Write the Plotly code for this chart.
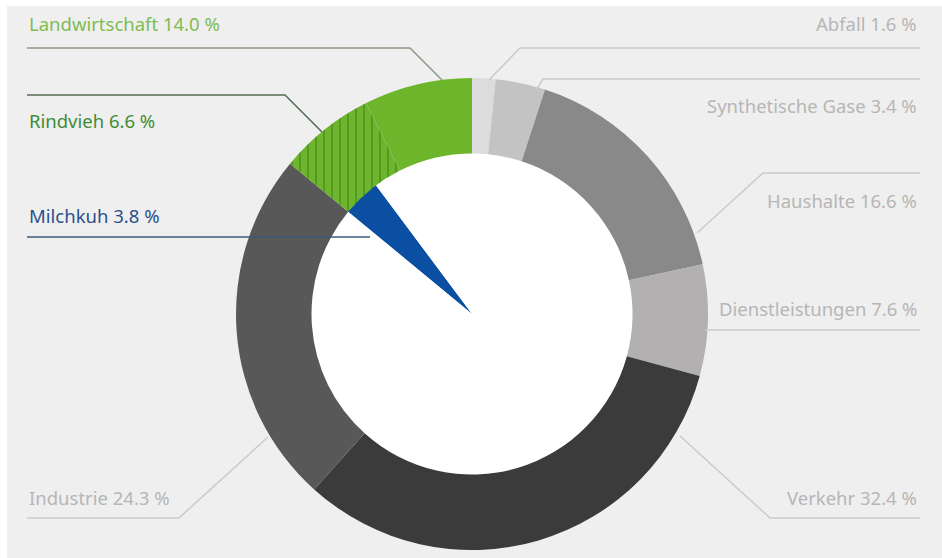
import plotly.graph_objects as go

# ---------------- data ----------------
sectors = ["Abfall", "Synthetische Gase", "Haushalte", "Dienstleistungen",
           "Verkehr", "Industrie", "Landwirtschaft"]
shares = [1.6, 3.4, 16.6, 7.6, 32.4, 24.3, 14.0]
rindvieh_share = 6.6      # part of Landwirtschaft
milchkuh_share = 3.8      # part of Rindvieh

# ---------------- styling / layout constants ----------------
W, H = 942, 558
CX, CY, R_OUT, R_IN = 472, 314, 236, 160.5

sector_colors = {
    "Abfall": "#dcdcdc", "Synthetische Gase": "#c3c3c3", "Haushalte": "#898989",
    "Dienstleistungen": "#b2b0b0", "Verkehr": "#3b3b3b", "Industrie": "#585858",
    "Landwirtschaft": "#6db52b",
}
hatch_color = "#3d7d1f"
blue = "#0b4fa3"
panel_color = "#efefef"


def px(x):
    return x / W


def py(y):
    return 1 - y / H


def dom(r):
    return dict(x=[px(CX - r), px(CX + r)], y=[py(CY + r), py(CY - r)])


total = sum(shares)
# ring: Landwirtschaft split into Rindvieh (hatched) + rest
ring_labels = sectors[:-1] + ["Rindvieh", "Landwirtschaft (übrige)"]
ring_values = shares[:-1] + [rindvieh_share, shares[-1] - rindvieh_share]
ring_colors = [sector_colors[s] for s in sectors[:-1]] + [sector_colors["Landwirtschaft"]] * 2
ring_shapes = [""] * (len(sectors) - 1) + ["|", ""]

fig = go.Figure()

# inner white disc with Milchkuh wedge (drawn first, under the ring)
start_angle = 360 * sum(shares[:-1]) / total
fig.add_trace(go.Pie(
    labels=["Milchkuh", "übrige"],
    values=[milchkuh_share, total - milchkuh_share],
    sort=False, direction="clockwise", rotation=start_angle,
    marker=dict(colors=[blue, "#ffffff"], line=dict(width=0)),
    textinfo="none", hoverinfo="skip", showlegend=False,
    domain=dom(R_IN + 1),
))

fig.add_trace(go.Pie(
    labels=ring_labels, values=ring_values,
    sort=False, direction="clockwise", rotation=0,
    hole=R_IN / R_OUT,
    marker=dict(colors=ring_colors, line=dict(width=0),
                pattern=dict(shape=ring_shapes,
                             fgcolor=[hatch_color] * len(ring_colors),
                             bgcolor=ring_colors,
                             fillmode="replace",
                             size=8, solidity=0.13)),
    textinfo="none", hoverinfo="skip", showlegend=False,
    domain=dom(R_OUT),
))

# ---------------- labels + leader lines ----------------
gray_txt = "#b6b6b6"
gray_line = "#cacaca"
label_specs = [
    # text, x, y, anchor, text color, line color, line path (pixels)
    (f"Abfall {shares[0]:.1f} %", 919, 24, "right", gray_txt, gray_line,
     [(920, 48), (520, 48), (489, 80)]),
    (f"Synthetische Gase {shares[1]:.1f} %", 919, 105, "right", gray_txt, gray_line,
     [(920, 79), (543, 79), (537, 89)]),
    (f"Haushalte {shares[2]:.1f} %", 919, 200, "right", gray_txt, gray_line,
     [(920, 173), (763, 173), (697, 233)]),
    (f"Dienstleistungen {shares[3]:.1f} %", 919, 308, "right", gray_txt, gray_line,
     [(920, 330), (705, 330)]),
    (f"Verkehr {shares[4]:.1f} %", 919, 497, "right", gray_txt, gray_line,
     [(920, 518), (770, 518), (680, 436)]),
    (f"Industrie {shares[5]:.1f} %", 27, 497, "left", gray_txt, gray_line,
     [(27, 518), (179, 518), (268, 437)]),
    (f"Landwirtschaft {shares[6]:.1f} %", 27, 24, "left", "#80bc55", "#8c9a86",
     [(27, 48), (410, 48), (442, 80)]),
    (f"Rindvieh {rindvieh_share:.1f} %", 27, 120, "left", "#3f8c36", "#566c55",
     [(27, 95), (285, 95), (322, 132)]),
    (f"Milchkuh {milchkuh_share:.1f} %", 27, 215, "left", "#2b4f8e", "#3d5a7c",
     [(27, 237), (370, 237)]),
]

# white outer border strips (left and top); panel colour is the paper background
shapes = [
    dict(type="rect", xref="paper", yref="paper", x0=0, x1=px(7), y0=0, y1=1,
         fillcolor="#ffffff", line=dict(width=0), layer="below"),
    dict(type="rect", xref="paper", yref="paper", x0=0, x1=1, y0=py(6), y1=1,
         fillcolor="#ffffff", line=dict(width=0), layer="below"),
]
annotations = []
for text, tx, ty, anchor, tcol, lcol, path in label_specs:
    d = "M " + " L ".join(f"{px(x):.5f},{py(y):.5f}" for x, y in path)
    shapes.append(dict(type="path", xref="paper", yref="paper", path=d,
                       line=dict(color=lcol, width=1.5), layer="above"))
    annotations.append(dict(text=text, x=px(tx), y=py(ty), xref="paper", yref="paper",
                            xanchor=anchor, yanchor="middle", showarrow=False,
                            font=dict(family="Noto Sans", size=18.5, color=tcol)))

fig.update_layout(
    width=W, height=H, margin=dict(l=0, r=0, t=0, b=0),
    paper_bgcolor=panel_color, plot_bgcolor=panel_color,
    shapes=shapes, annotations=annotations, showlegend=False,
)

fig.write_html(
    "out.html", config={"displayModeBar": False},
    post_script=(
        "document.body.style.margin='0px';document.body.style.padding='0px';"
        "document.body.style.overflow='hidden';"
        "document.body.style.background='" + panel_color + "';"
        "document.documentElement.style.background='" + panel_color + "';"
    ),
)
